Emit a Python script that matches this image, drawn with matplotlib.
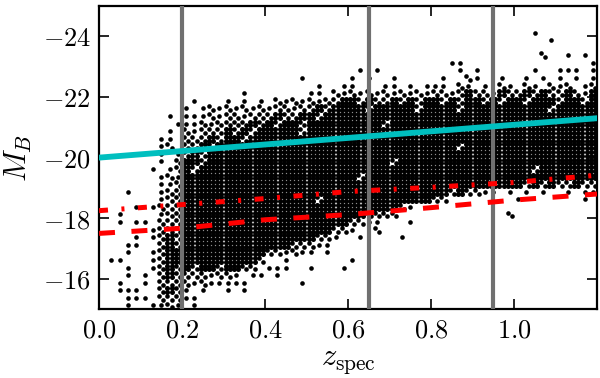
import matplotlib

matplotlib.use("Agg")
import matplotlib.pyplot as plt  # noqa: E402
import numpy as np  # noqa: E402

plt.rcParams["mathtext.fontset"] = "cm"
plt.rcParams["font.family"] = "serif"
plt.rcParams["font.serif"] = ["DejaVu Serif"]

# One row per 0.25 mag in M_B (from -25 down to -15), one char per 0.02 in z
# ('|' every 10 columns only for readability).
#   ' ' empty, '.' one galaxy, '+' a couple, '#' crowded
Z_MIN, Z_STEP = 0.0, 0.02
M_MIN, M_STEP = -25.0, 0.25
DENSITY = [
    "          |          |          |          |          |          ",
    "          |          |          |          |          |          ",
    "          |          |          |          |          |          ",
    "          |          |          |          |          |  .       ",
    "          |          |          |          |          |    .     ",
    "          |          |          |          |          |          ",
    "          |          |          |          |          |   +  . . ",
    "          |          |          |          |  ..      |         .",
    "          |          |          | . .      |   . .    |  .  ... .",
    "          |          |    .     |. .  .    | .  +.  . | . . . . .",
    "          |          |      .  .|.   .. . .|.. +. . +.| +. +.+ .+",
    "          |       .  |     .. +.|+.+.+.+.+.|++.+#++.#+|+#+#++#+.#",
    "          | .   . . .| +.+.+.++#|#+#++#+#+#|#+#+##+#+#|#+###+##+#",
    "          |. .+.+.+.+|.++.++#+##|##+#####+#|###+######|####+#####",
    "        . |...+.++.++|+#++##+###|##########|##########|##########",
    "         .|..+.++++#+|#+##+#####|####+#####|##########|##########",
    "        . |+.+++#+#+#|####+#####|##########|##########|##########",
    "       .. |+++#+##+##|##########|##########|##########|##########",
    "       .+ |++#+######|##########|##########|###+######|##########",
    "       . .|+#+#######|##########|##########|##########|##########",
    "       . +|##+#######|##########|#####+####|##########|##########",
    "      . .+|#+########|##########|##########|##########|##+#######",
    "       .+.|##########|##########|#+########|##########|##########",
    "       ..+|##########|##########|##########|##########|#+#+#++#++",
    "   .   .++|##########|##########|##########|##+#++.. .| . .  . ..",
    "       .++|##########|######+###|##########|++        |.       . ",
    "    . .+++|##########|##########|######+.  |          |          ",
    "  .    .++|##########|##########|##++++    |         +|          ",
    "  . .. +++|##########|##########|++..   .  |          |          ",
    "      .+++|##########|########++|.  +      |          |          ",
    "    . .+#+|##########|######++. | .    .   |          |          ",
    "   ..  +#+|##########|###+++..  |          |          |          ",
    "   .  .+##|##########|++.+.. .  |          |          |          ",
    " ..   .+##|#########+|  .       |.         |          |          ",
    "   .  .+#+|#+##+##++ |...  .   .|          |          |          ",
    "   . . +#+|+++.++. ..| .        |          |          |          ",
    "  .  . +++|+.+.....  |    .     |          |          |          ",
    "  ...  +#+|. .  . .  |          |          |          |          ",
    "   ... +++|..        |          |          |          |          ",
    "   .  ..+.| .        |          |          |          |          ",
]

# Luminosity limits / cuts drawn over the sample
z_line = [0.0, 0.2, 0.4, 0.6, 0.8, 1.0, 1.2]
m_limit_upper = [-18.25, -18.45, -18.65, -18.88, -19.02, -19.18, -19.42]
m_limit_lower = [-17.5, -17.67, -17.95, -18.12, -18.35, -18.6, -18.8]
z_cut = [0.0, 1.2]
m_cut = [-20.0, -21.3]
z_bins = [0.2, 0.65, 0.95]

x_ticks = [0.0, 0.2, 0.4, 0.6, 0.8, 1.0]
y_ticks = [-24, -22, -20, -18, -16]

# sub-positions (in cell units) of the dots drawn for each density symbol
SUBCELL = {
    ".": [(0.0, 0.0)],
    "+": [(-0.25, -0.25), (0.25, 0.25)],
    "#": [(-0.25, -0.25), (0.25, -0.25), (-0.25, 0.25), (0.25, 0.25)],
}


def density_points(rows):
    sparse, crowded = [], []
    for r, row in enumerate(rows):
        row = row.replace("|", "")
        assert len(row) == 60, (r, len(row))
        for c, ch in enumerate(row):
            if ch == " ":
                continue
            zc = Z_MIN + (c + 0.5) * Z_STEP
            mc = M_MIN + (r + 0.5) * M_STEP
            target = crowded if ch == "#" else sparse
            for dz, dm in SUBCELL[ch]:
                target.append((zc + dz * Z_STEP, mc + dm * M_STEP))
    return np.array(sparse), np.array(crowded)


sparse, crowded = density_points(DENSITY)

fig = plt.figure(figsize=(6.0, 3.78), dpi=100)
ax = fig.add_axes([0.165, 0.182, 0.83, 0.802])

ax.scatter(crowded[:, 0], crowded[:, 1], s=13, c="k", lw=0, zorder=2)
ax.scatter(sparse[:, 0], sparse[:, 1], s=11, c="k", lw=0, zorder=2)

for zb in z_bins:
    ax.axvline(zb, color="#707070", lw=3.0, zorder=3)

ax.plot(z_cut, m_cut, color="c", lw=4.2, zorder=4)
ax.plot(z_line, m_limit_upper, color="r", lw=3.6, dashes=(1.8, 2.7, 0.6, 2.7), zorder=4)
ax.plot(z_line, m_limit_lower, color="r", lw=3.6, dashes=(3.2, 3.3), zorder=4)

ax.set_xlim(0.0, 1.2)
ax.set_ylim(-15.0, -25.0)
ax.set_xticks(x_ticks)
ax.set_xticklabels([rf"${t:.1f}$" for t in x_ticks])
ax.set_yticks(y_ticks)
ax.set_yticklabels([rf"$-{abs(t)}$" for t in y_ticks])
ax.tick_params(direction="in", length=7, width=1.2, labelsize=19, pad=6,
               top=True, right=True)
for sp in ax.spines.values():
    sp.set_linewidth(1.6)

ax.set_xlabel(r"$z_{\rm spec}$", fontsize=22, labelpad=2)
ax.set_ylabel(r"$M_B$", fontsize=22, labelpad=6)

fig.savefig("out.png", dpi=100)
